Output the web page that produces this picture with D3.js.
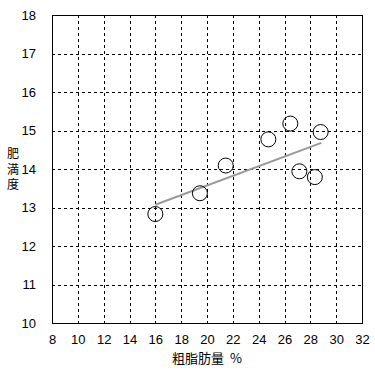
<!DOCTYPE html>
<html>
<head>
<meta charset="utf-8">
<script src="https://cdn.jsdelivr.net/npm/d3@7"></script>
<style>
  body { margin: 0; background: #fff; }
  text { font-family: "Liberation Sans", Arial, sans-serif; fill: #000; }
</style>
</head>
<body>
<div id="chart"></div>
<script>
// data
var fatX = [16.0, 19.45, 21.45, 24.75, 26.45, 28.8, 27.15, 28.35];
var obesityY = [12.83, 13.37, 14.09, 14.77, 15.18, 14.96, 13.94, 13.79];
var trendX = [16.0, 28.85];
var trendY = [13.07, 14.68];
var xTicks = [8, 10, 12, 14, 16, 18, 20, 22, 24, 26, 28, 30, 32];
var yTicks = [10, 11, 12, 13, 14, 15, 16, 17, 18];
var xTitle = "粗脂肪量  %";
var yTitle = ["肥", "満", "度"];

var margin = {top: 15, right: 13, bottom: 49, left: 52},
    width = 375 - margin.left - margin.right,
    height = 372 - margin.top - margin.bottom;

var svg = d3.select("#chart")
  .append("svg")
    .attr("width", 375)
    .attr("height", 372)
  .append("g")
    .attr("transform", "translate(" + margin.left + "," + margin.top + ")");

var x = d3.scaleLinear().domain([8, 32]).range([0, width]);
var y = d3.scaleLinear().domain([10, 18]).range([height, 0]);

// grid lines
svg.append("g")
  .selectAll("line")
  .data(xTicks.slice(1, -1))
  .enter().append("line")
    .attr("x1", function(d) { return Math.round(x(d)) + 0.5; })
    .attr("x2", function(d) { return Math.round(x(d)) + 0.5; })
    .attr("y1", 0).attr("y2", height)
    .attr("stroke", "#000")
    .attr("stroke-dasharray", "3,3");

svg.append("g")
  .selectAll("line")
  .data(yTicks.slice(1, -1))
  .enter().append("line")
    .attr("y1", function(d) { return Math.round(y(d)) + 0.5; })
    .attr("y2", function(d) { return Math.round(y(d)) + 0.5; })
    .attr("x1", 0).attr("x2", width)
    .attr("stroke", "#000")
    .attr("stroke-dasharray", "3,3");

// frame
svg.append("rect")
  .attr("x", 0.5).attr("y", 0.5)
  .attr("width", width).attr("height", height)
  .attr("fill", "none")
  .attr("stroke", "#000");

// axes labels
var xAxis = svg.append("g")
  .attr("transform", "translate(0," + height + ")")
  .call(d3.axisBottom(x).tickValues(xTicks).tickSize(0).tickPadding(12));
xAxis.select(".domain").remove();
xAxis.selectAll("text").style("font-size", "13px");

var yAxis = svg.append("g")
  .call(d3.axisLeft(y).tickValues(yTicks).tickSize(0).tickPadding(16));
yAxis.select(".domain").remove();
yAxis.selectAll("text").style("font-size", "13px");

// trend line
var pts = trendX.map(function(d, i) { return [d, trendY[i]]; });
svg.append("path")
  .datum(pts)
  .attr("fill", "none")
  .attr("stroke", "#999")
  .attr("stroke-width", 2)
  .attr("d", d3.line()
    .x(function(d) { return x(d[0]); })
    .y(function(d) { return y(d[1]); }));

// points
svg.selectAll("circle.pt")
  .data(fatX)
  .enter().append("circle")
    .attr("class", "pt")
    .attr("cx", function(d) { return x(d); })
    .attr("cy", function(d, i) { return y(obesityY[i]); })
    .attr("r", 7.5)
    .attr("fill", "none")
    .attr("stroke", "#000");

// titles
svg.append("text")
  .attr("x", width / 2)
  .attr("y", height + 40)
  .attr("text-anchor", "middle")
  .style("white-space", "pre")
  .style("font-family", "'Noto Sans CJK JP', sans-serif")
  .style("font-size", "13px")
  .text(xTitle);

svg.append("text")
  .attr("text-anchor", "middle")
  .style("font-family", "'Noto Sans CJK JP', sans-serif")
  .style("font-size", "12px")
  .selectAll("tspan")
  .data(yTitle)
  .enter().append("tspan")
    .attr("x", -39)
    .attr("y", function(d, i) { return 143 + i * 15.5; })
    .text(function(d) { return d; });
</script>
</body>
</html>
